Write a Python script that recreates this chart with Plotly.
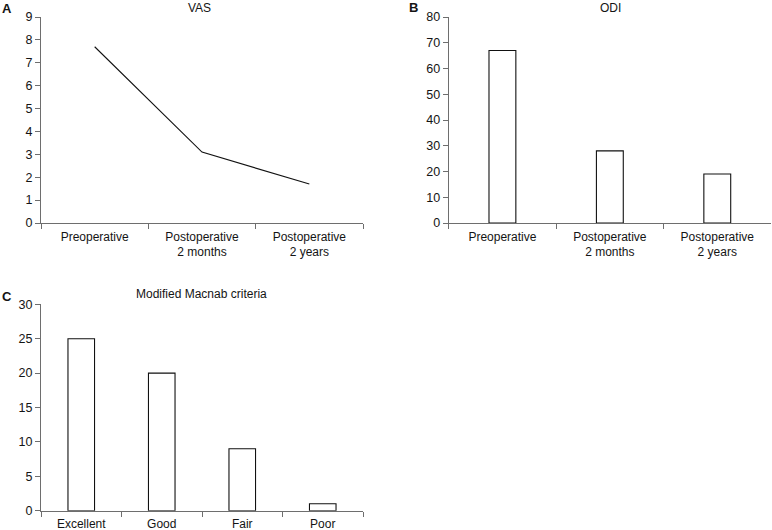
import plotly.graph_objects as go

vas_categories = ["Preoperative", "Postoperative<br>2 months", "Postoperative<br>2 years"]
vas_values = [7.7, 3.1, 1.7]
odi_categories = ["Preoperative", "Postoperative<br>2 months", "Postoperative<br>2 years"]
odi_values = [67, 28, 19]
macnab_categories = ["Excellent", "Good", "Fair", "Poor"]
macnab_values = [25, 20, 9, 1]

W, H = 772, 530
FONT = "Liberation Sans, Arial, sans-serif"
AX = "#6e6e6e"
TXT = "#141414"

def px_x(p):
    return p / W

def px_y(p):
    return 1 - p / H

fig = go.Figure()
fig.add_trace(go.Scatter(x=vas_categories, y=vas_values, mode="lines",
                         line=dict(color="#111111", width=1.1),
                         xaxis="x", yaxis="y", showlegend=False))
fig.add_trace(go.Bar(x=odi_categories, y=odi_values, width=0.25,
                     marker=dict(color="white", line=dict(color="#111111", width=1.1)),
                     xaxis="x2", yaxis="y2", showlegend=False))
fig.add_trace(go.Bar(x=macnab_categories, y=macnab_values, width=0.33,
                     marker=dict(color="white", line=dict(color="#111111", width=1.1)),
                     xaxis="x3", yaxis="y3", showlegend=False))

def xax(domain, anchor, n):
    return dict(domain=domain, anchor=anchor, type="category", range=[-0.5, n - 0.5],
                showline=True, linecolor=AX, linewidth=1.2, ticks="outside",
                tickson="boundaries", ticklen=5, tickcolor=AX, tickwidth=1.2,
                ticklabelstandoff=2,
                showgrid=False, zeroline=False, automargin=False,
                tickfont=dict(family=FONT, size=12, color=TXT), fixedrange=True)

def yax(domain, anchor, rng, dtick):
    return dict(domain=domain, anchor=anchor, range=rng, dtick=dtick,
                showline=True, linecolor=AX, linewidth=1.2, ticks="outside",
                ticklen=5, tickcolor=AX, tickwidth=1.2,
                showgrid=False, zeroline=False, automargin=False,
                tickfont=dict(family=FONT, size=12.5, color=TXT), fixedrange=True)

top_dom = [px_y(223), px_y(17)]
bot_dom = [px_y(510.7), px_y(304.3)]
left_dom = [px_x(41), px_x(363)]
right_dom = [px_x(448.7), px_x(771)]

annotations = [
    dict(text="VAS", x=px_x(200), y=px_y(8)),
    dict(text="ODI", x=px_x(610), y=px_y(8)),
    dict(text="Modified Macnab criteria", x=px_x(201.7), y=px_y(293.5)),
    dict(text="<b>A</b>", x=px_x(7), y=px_y(8.5), size=13),
    dict(text="<b>B</b>", x=px_x(413), y=px_y(8), size=13),
    dict(text="<b>C</b>", x=px_x(7), y=px_y(296.5), size=13),
]
ann_objs = []
for a in annotations:
    ann_objs.append(dict(text=a["text"], x=a["x"], y=a["y"], xref="paper", yref="paper",
                         xanchor="center", yanchor="middle", showarrow=False,
                         font=dict(family=FONT, size=a.get("size", 12), color=TXT)))

fig.update_layout(
    width=W, height=H,
    margin=dict(l=0, r=0, t=0, b=0, pad=0, autoexpand=False),
    paper_bgcolor="white", plot_bgcolor="white",
    xaxis=xax(left_dom, "y", 3),
    yaxis=yax(top_dom, "x", [0, 9], 1),
    xaxis2=xax(right_dom, "y2", 3),
    yaxis2=yax(top_dom, "x2", [0, 80], 10),
    xaxis3=xax(left_dom, "y3", 4),
    yaxis3=yax(bot_dom, "x3", [0, 30], 5),
    annotations=ann_objs,
    showlegend=False,
)

fig.write_html("out.html", config={"displayModeBar": False},
               post_script="document.body.style.margin='0';document.body.style.overflow='hidden';")
